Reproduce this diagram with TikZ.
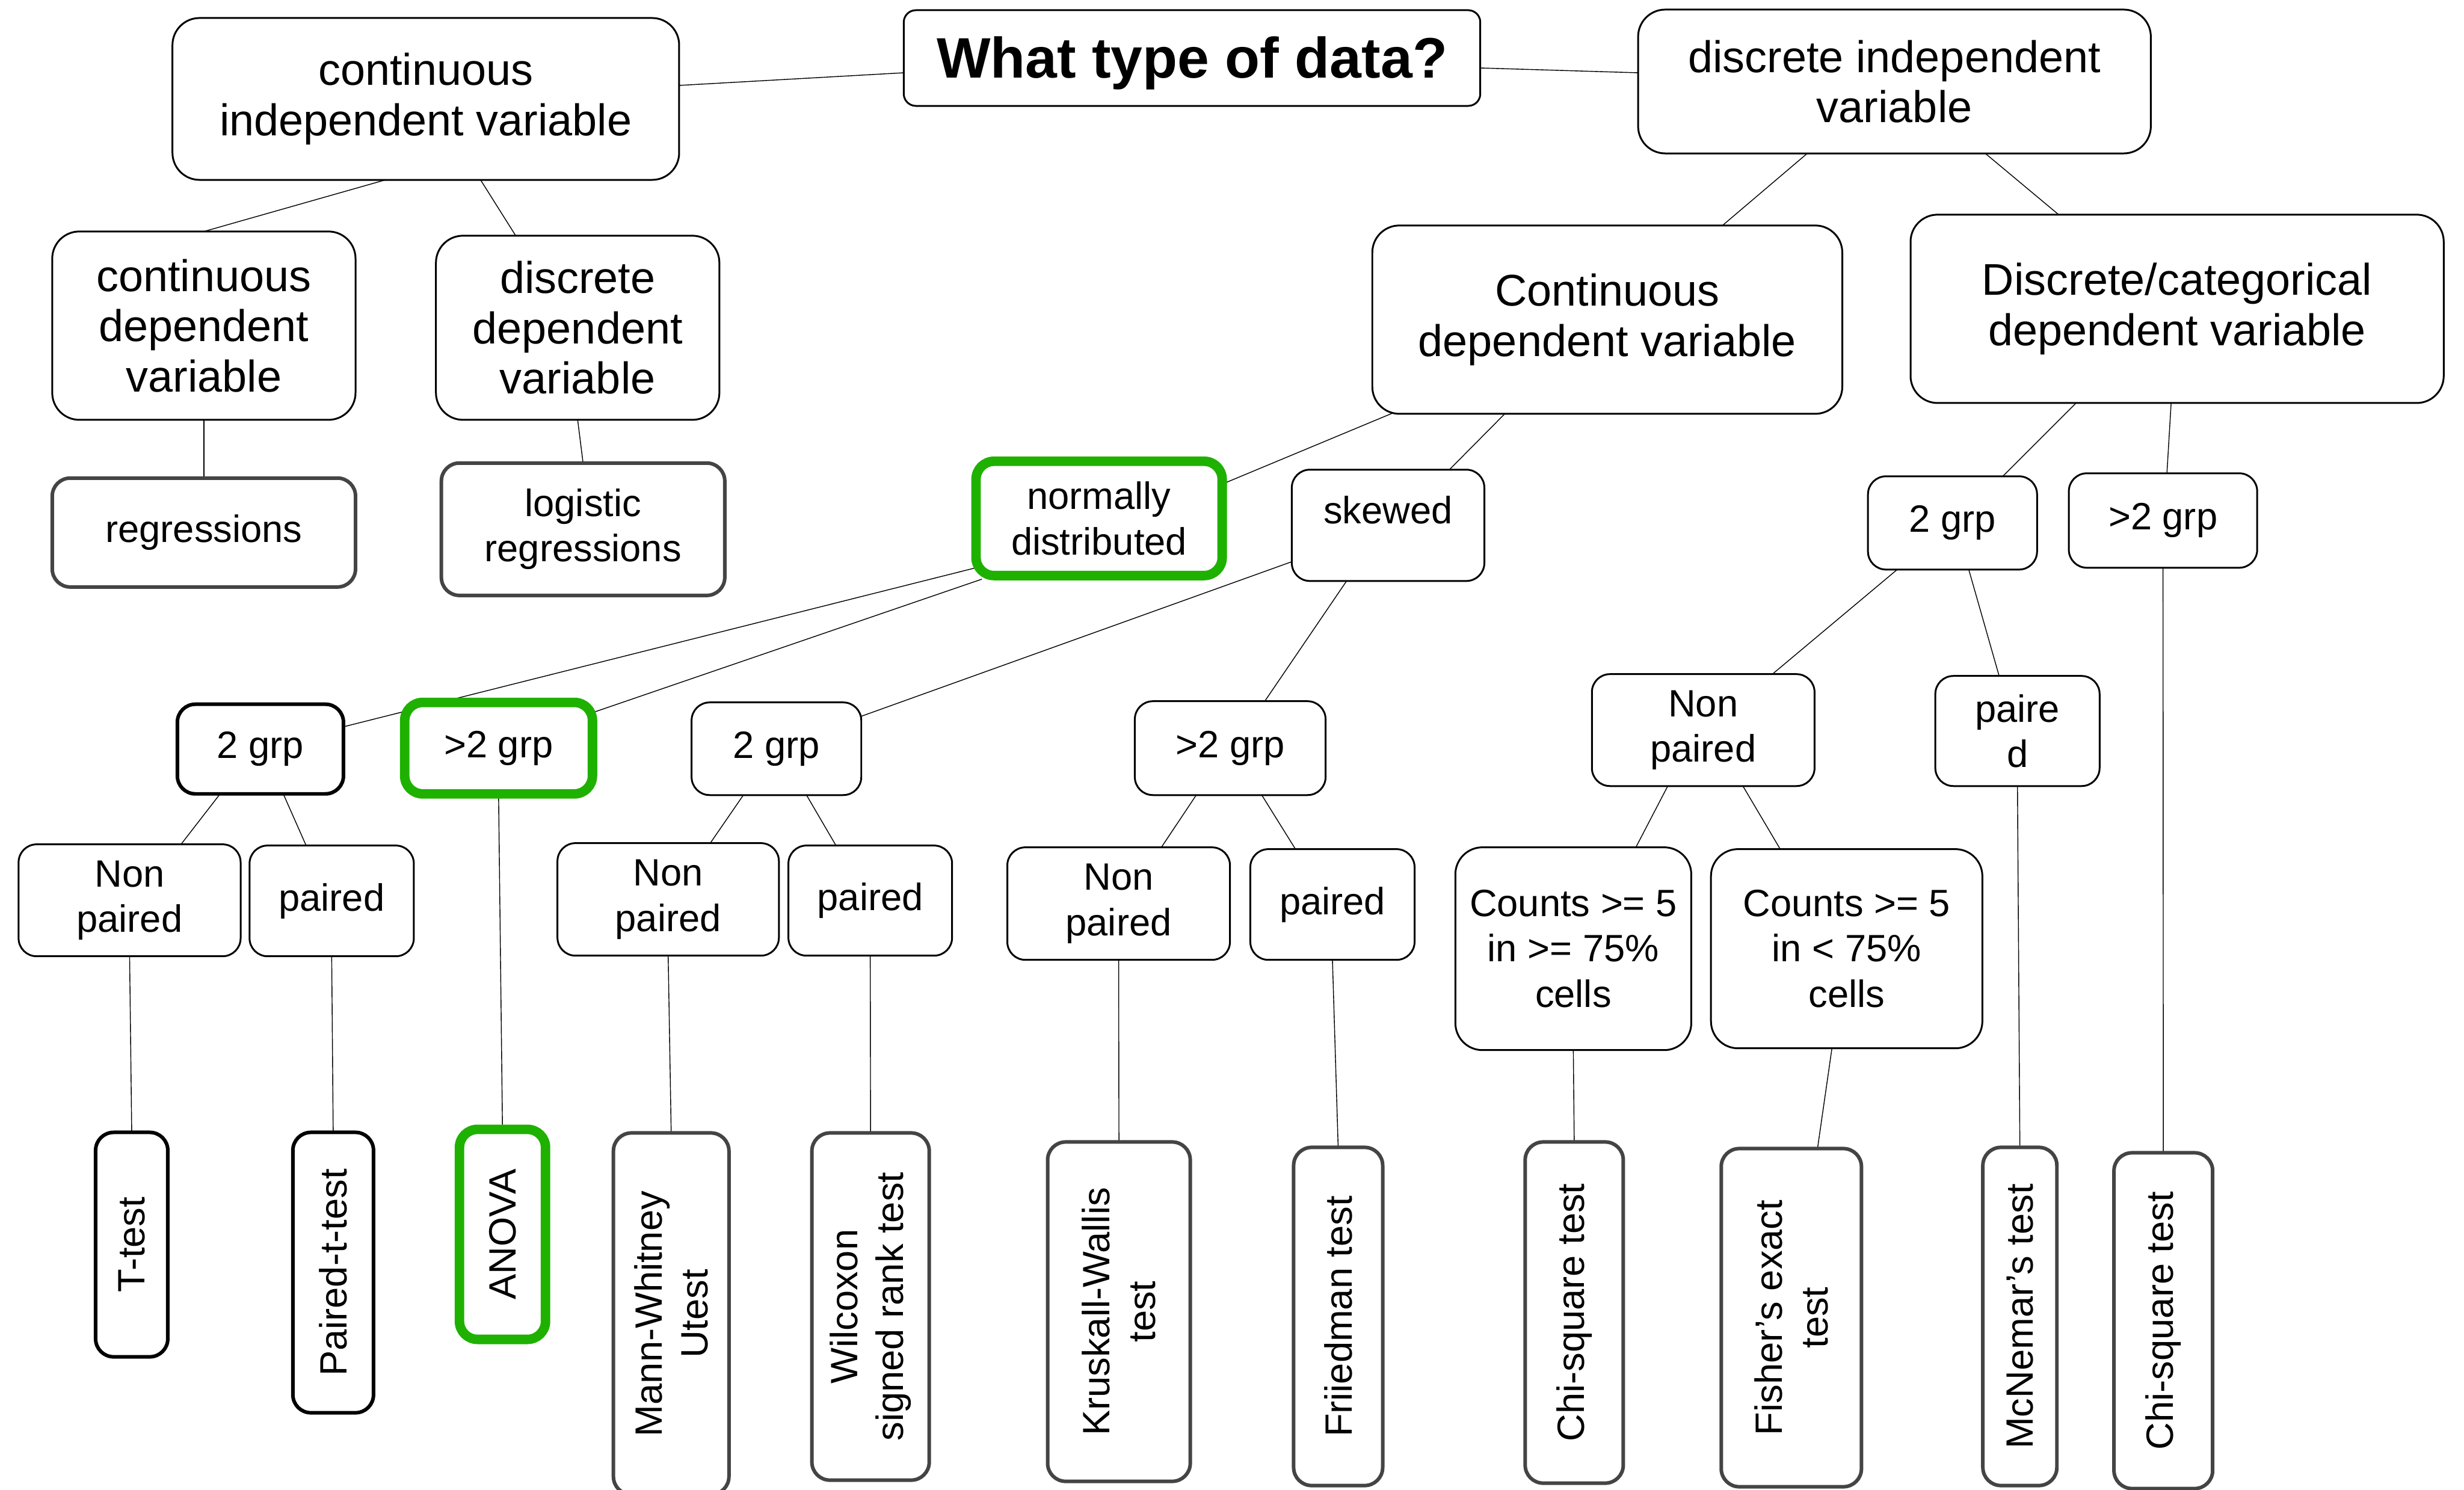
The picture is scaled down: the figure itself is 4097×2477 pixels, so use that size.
\documentclass[tikz,border=0pt]{standalone}
\usepackage{fontspec}
\setmainfont{Liberation Sans}
\usetikzlibrary{calc, backgrounds}
\definecolor{pickgreen}{RGB}{30,177,0}
\definecolor{leafgray}{RGB}{68,68,68}

\begin{document}
\begin{tikzpicture}[x = 0.01cm, y = -0.01cm,
    box/.style = {shape = rectangle, draw, fill = white, rounded corners = 0.3cm, align = center,
        inner sep = 0pt, outer sep = 0pt, line width = 0.85pt, font = \fontsize{18}{21.5}\selectfont},
    bigbox/.style = {box, rounded corners = 0.45cm, font = \fontsize{21}{23.8}\selectfont},
    leaf/.style = {box, draw = leafgray, line width = 1.7pt},
    vleaf/.style = {leaf, rotate = 90},
    pick/.style = {draw = pickgreen, line width = 4.5pt},
    link/.style = {line width = 0.85pt}]
    \useasboundingbox (0, 0) rectangle (4097, 2477);

    \node[bigbox, rounded corners = 0.2cm, font = \fontsize{27}{30}\selectfont\bfseries, text height = 0.85cm,
        minimum width = 9.58cm, minimum height = 1.59cm] (title) at (1982, 96.5) {What type of data?};
    \node[bigbox, minimum width = 8.42cm, minimum height = 2.69cm] (civ) at (708, 164.5) {continuous\\independent variable};
    \node[bigbox, minimum width = 8.52cm, minimum height = 2.39cm] (div) at (3150, 135.5) {discrete independent\\variable};

    \node[bigbox, minimum width = 5.04cm, minimum height = 3.13cm] (cdvl) at (339, 541.5) {continuous\\dependent\\variable};
    \node[bigbox, minimum width = 4.71cm, minimum height = 3.06cm] (ddvl) at (960.5, 545) {discrete\\dependent\\variable};
    \node[leaf, minimum width = 5.04cm, minimum height = 1.81cm] (reg) at (339, 885.5) {regressions};
    \node[leaf, minimum width = 4.71cm, minimum height = 2.2cm] (logreg) at (969.5, 880) {logistic\\regressions};

    \node[bigbox, minimum width = 7.81cm, minimum height = 3.13cm] (cdv) at (2672.5, 531.5) {Continuous\\dependent variable};
    \node[bigbox, minimum width = 8.86cm, minimum height = 3.13cm] (dcdv) at (3620, 513.5) {Discrete/categorical\\dependent variable};

    \node[box, pick, minimum width = 4.09cm, minimum height = 1.9cm] (normal) at (1827.5, 862) {normally\\distributed};
    \node[box, text depth = 0.52cm, minimum width = 3.2cm, minimum height = 1.85cm] (skewed) at (2308, 873.5) {skewed};
    \node[box, minimum width = 2.81cm, minimum height = 1.55cm] (grpk) at (3246.5, 869.5) {2 grp};
    \node[box, minimum width = 3.13cm, minimum height = 1.57cm] (mgrpk) at (3596.5, 865.5) {>2 grp};

    \node[box, line width = 1.7pt, minimum width = 2.76cm, minimum height = 1.49cm] (grpn) at (433, 1245.5) {2 grp};
    \node[box, pick, minimum width = 3.12cm, minimum height = 1.52cm] (mgrpn) at (829, 1244) {>2 grp};
    \node[box, minimum width = 2.82cm, minimum height = 1.54cm] (grps) at (1291, 1245) {2 grp};
    \node[box, minimum width = 3.17cm, minimum height = 1.56cm] (mgrps) at (2045.5, 1244) {>2 grp};
    \node[box, minimum width = 3.7cm, minimum height = 1.86cm] (nonpk) at (2832, 1214) {Non\\paired};
    \node[box, minimum width = 2.73cm, minimum height = 1.83cm] (pairk) at (3354.5, 1215.5) {paire\\d};

    \node[box, minimum width = 3.69cm, minimum height = 1.86cm] (nonpn) at (215.5, 1497) {Non\\paired};
    \node[box, minimum width = 2.73cm, minimum height = 1.84cm] (pairn) at (551.5, 1498) {paired};
    \node[box, minimum width = 3.68cm, minimum height = 1.87cm] (nonps) at (1111, 1495.5) {Non\\paired};
    \node[box, minimum width = 2.72cm, minimum height = 1.83cm] (pairs) at (1447, 1497.5) {paired};
    \node[box, minimum width = 3.7cm, minimum height = 1.87cm] (nonpm) at (1860, 1502.5) {Non\\paired};
    \node[box, minimum width = 2.73cm, minimum height = 1.84cm] (pairm) at (2215.5, 1504) {paired};
    \node[box, rounded corners = 0.45cm, minimum width = 3.92cm, minimum height = 3.37cm] (bigcount) at (2616, 1577.5) {Counts >= 5\\in >= 75\%\\cells};
    \node[box, rounded corners = 0.45cm, minimum width = 4.51cm, minimum height = 3.31cm] (smallcount) at (3070.5, 1577.5) {Counts >= 5\\in < 75\%\\cells};

    \node[vleaf, draw = black, minimum width = 3.73cm, minimum height = 1.2cm] (ttest) at (219, 2069.5) {T-test};
    \node[vleaf, draw = black, minimum width = 4.66cm, minimum height = 1.34cm] (pttest) at (554, 2116) {Paired-t-test};
    \node[vleaf, pick, minimum width = 3.49cm, minimum height = 1.43cm] (anova) at (835.5, 2052.5) {ANOVA};
    \node[vleaf, minimum width = 6.01cm, minimum height = 1.92cm] (mann) at (1116, 2184.5) {Mann-Whitney\\Utest};
    \node[vleaf, minimum width = 5.77cm, minimum height = 1.95cm] (wilcox) at (1447.5, 2172.5) {Wilcoxon\\signed rank test};
    \node[vleaf, minimum width = 5.64cm, minimum height = 2.37cm] (kruskal) at (1860.5, 2181) {Kruskall-Wallis\\test};
    \node[vleaf, minimum width = 5.62cm, minimum height = 1.48cm] (friedman) at (2225, 2189) {Friiedman test};
    \node[vleaf, minimum width = 5.67cm, minimum height = 1.63cm] (chia) at (2617.5, 2182.5) {Chi-square test};
    \node[vleaf, minimum width = 5.62cm, minimum height = 2.33cm] (fisher) at (2978.5, 2191) {Fisher’s exact\\test};
    \node[vleaf, minimum width = 5.62cm, minimum height = 1.23cm] (mcnemar) at (3358.5, 2189) {McNemar’s test};
    \node[vleaf, minimum width = 5.58cm, minimum height = 1.64cm] (chib) at (3597, 2196) {Chi-square test};

    \begin{scope}[on background layer, link]
        \draw ($(civ.east) + (0, -22.5)$) -- ($(title.west) + (0, 24.5)$);
        \draw ($(title.east) + (0, 16.5)$) -- ($(div.west) + (0, -14.5)$);
        \draw ($(civ.south) + (-67, 0)$) -- (cdvl.north);
        \draw ($(civ.south) + (91, 0)$) -- ($(ddvl.north) + (-103, 0)$);
        \draw (cdvl.south) -- (reg.north);
        \draw (ddvl.south) -- (logreg.north);
        \draw ($(div.south) + (-145, 0)$) -- ($(cdv.north) + (191.5, 0)$);
        \draw ($(div.south) + (151, 0)$) -- ($(dcdv.north) + (-197, 0)$);
        \draw ($(cdv.south) + (-355, -2)$) -- ($(normal.east) + (0, -57)$);
        \draw ($(cdv.south) + (-170.5, 0)$) -- ($(skewed.north) + (102, 0)$);
        \draw ($(dcdv.south) + (-168, 0)$) -- ($(grpk.north) + (83.5, 0)$);
        \draw ($(dcdv.south) + (-10, 0)$) -- ($(mgrpk.north) + (6.5, 0)$);
        \draw ($(normal.west) + (0, 82)$) -- ($(grpn.east) + (0, -37)$);
        \draw ($(normal.south) + (-195, 6)$) -- ($(mgrpn.east) + (0, -59)$);
        \draw ($(skewed.west) + (0, 60.5)$) -- ($(grps.east) + (0, -54)$);
        \draw ($(skewed.south) + (-69, 0)$) -- ($(mgrps.north) + (57.5, 0)$);
        \draw ($(grpn.south) + (-67, 0)$) -- ($(nonpn.north) + (85.5, 0)$);
        \draw ($(grpn.south) + (38, 0)$) -- ($(pairn.north) + (-42.5, 0)$);
        \draw (mgrpn.south) -- (anova.east);
        \draw ($(grps.south) + (-55, 0)$) -- ($(nonps.north) + (70, 0)$);
        \draw ($(grps.south) + (50, 0)$) -- ($(pairs.north) + (-57, 0)$);
        \draw ($(mgrps.south) + (-56.5, 0)$) -- ($(nonpm.north) + (71, 0)$);
        \draw ($(mgrps.south) + (52.5, 0)$) -- ($(pairm.north) + (-61.5, 0)$);
        \draw ($(grpk.south) + (-92, 0)$) -- ($(nonpk.north) + (115, 0)$);
        \draw ($(grpk.south) + (27, 0)$) -- ($(pairk.north) + (-30.5, 0)$);
        \draw ($(nonpk.south) + (-59, 0)$) -- ($(bigcount.north) + (104, 0)$);
        \draw ($(nonpk.south) + (66, 0)$) -- ($(smallcount.north) + (-110.5, 0)$);
        \draw (nonpn.south) -- (ttest.east);
        \draw (pairn.south) -- (pttest.east);
        \draw (nonps.south) -- (mann.east);
        \draw (pairs.south) -- (wilcox.east);
        \draw (nonpm.south) -- (kruskal.east);
        \draw (pairm.south) -- (friedman.east);
        \draw (bigcount.south) -- (chia.east);
        \draw ($(smallcount.south) + (-24.5, 0)$) -- ($(fisher.east) + (43.5, 0)$);
        \draw (pairk.south) -- (mcnemar.east);
        \draw (mgrpk.south) -- (chib.east);
    \end{scope}
\end{tikzpicture}
\end{document}
